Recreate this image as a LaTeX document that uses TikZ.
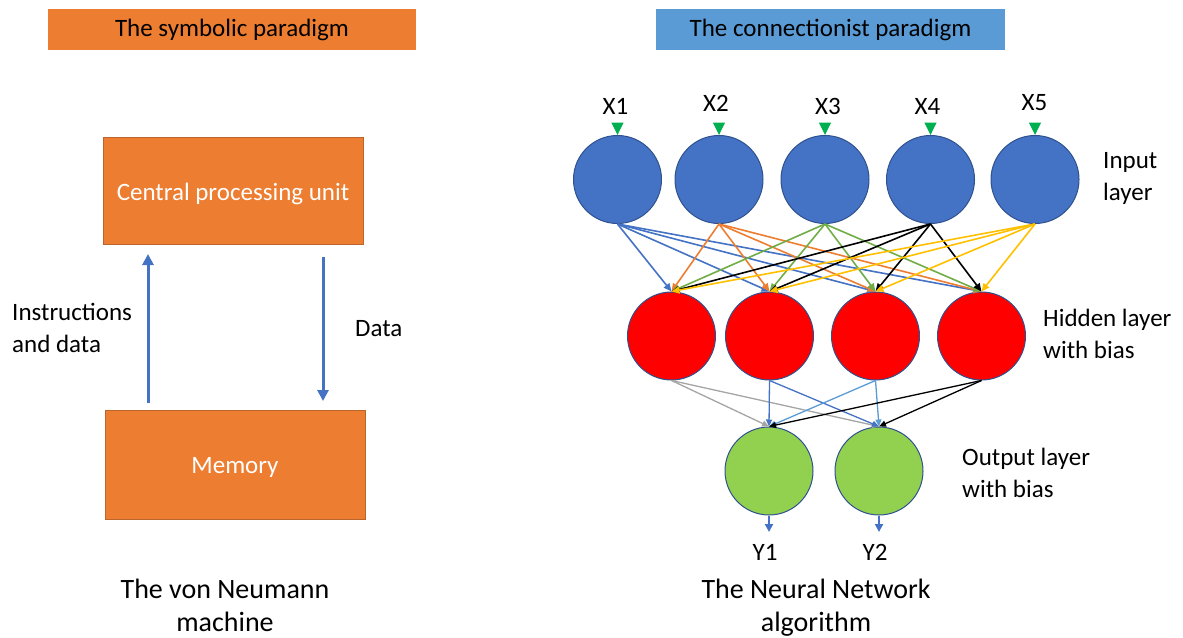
\documentclass[tikz,border=0pt]{standalone}
\usepackage{fontspec}
\setmainfont{Carlito}
\usetikzlibrary{arrows.meta,calc}

\definecolor{orangeA}{HTML}{ED7D31}
\definecolor{orangeD}{HTML}{B9652B}
\definecolor{skyA}{HTML}{5B9BD5}
\definecolor{blueA}{HTML}{4472C4}
\definecolor{rimblue}{HTML}{2F528F}
\definecolor{redA}{HTML}{FF0000}
\definecolor{limeA}{HTML}{92D050}
\definecolor{greenA}{HTML}{70AD47}
\definecolor{goldA}{HTML}{FFC000}
\definecolor{grayA}{HTML}{A5A5A5}
\definecolor{tipgreen}{HTML}{00B050}

\begin{document}
\begin{tikzpicture}[x=1pt,y=-1pt,
  txt/.style={font=\fontsize{25}{32}\selectfont, inner sep=0pt},
  bigtxt/.style={font=\fontsize{28}{34}\selectfont, inner sep=0pt, anchor=base},
  title/.style={txt, minimum width=368pt, minimum height=41pt},
  unitbox/.style={txt, fill=orangeA, draw=orangeD, line width=1pt,
    minimum width=260pt},
  unitlabel/.style={label={[txt, text=white, yshift=-3pt]center:#1}},
  neuron/.style={circle, minimum size=88pt, inner sep=0pt, draw=rimblue, line width=1pt},
  inp/.style={neuron, fill=blueA},
  hid/.style={neuron, fill=redA},
  outn/.style={neuron, fill=limeA},
  bus/.style={draw=blueA, line width=3pt, -{Triangle[length=11pt,width=11pt]}},
  ih/.style={line width=1.6pt, -{Triangle[length=8pt,width=7pt]}},
  ho/.style={line width=1.3pt, -{Triangle[length=7pt,width=6pt]}},
  yout/.style={draw=blueA, line width=2pt, -{Triangle[length=8pt,width=8pt]}}
]
\useasboundingbox (0,0) rectangle (1183,637);

% ---------- left: the von Neumann machine ----------
\node[title, fill=orangeA] (symtitle) at (232,29.5) {The symbolic paradigm};
\node[unitbox, minimum height=107pt, unitlabel={Central processing unit}] (cpu) at (233,190.5) {};
\node[unitbox, minimum height=109pt, unitlabel={Memory}] (mem) at (235,464.5) {};

\coordinate (upS) at (148,403);
\coordinate (upE) at (148,254);
\coordinate (dnS) at (323,257);
\coordinate (dnE) at (323,401);
\draw[bus] (upS) -- (upE);
\draw[bus] (dnS) -- (dnE);

\node[txt, anchor=west, align=left] (instr) at (12,328) {Instructions\\and data};
\node[txt, anchor=west] (datalbl) at (355,329) {Data};

\node[bigtxt] (vn1) at (225,598) {The von Neumann};
\node[bigtxt] (vn2) at (225,631) {machine};

% ---------- right: the neural network ----------
\node[title, fill=skyA, minimum width=349pt] (contitle) at (830.5,29.5) {The connectionist paradigm};

\node[inp] (i1) at (617.5,179.5) {};
\node[inp] (i2) at (719,179.5) {};
\node[inp] (i3) at (825,179.5) {};
\node[inp] (i4) at (930.5,179.5) {};
\node[inp] (i5) at (1035,179.5) {};

\node[hid] (h1) at (671.5,336) {};
\node[hid] (h2) at (769.5,336) {};
\node[hid] (h3) at (875.5,336) {};
\node[hid] (h4) at (981.5,336) {};

\node[outn] (o1) at (769,471) {};
\node[outn] (o2) at (879,471) {};

% input markers and labels
\foreach \n in {i1,i2,i3,i4,i5}
  \fill[tipgreen] ($(\n.north)+(-6.2,-12.5)$) -- ($(\n.north)+(6.2,-12.5)$) -- (\n.north) -- cycle;
\node[txt] (x1) at (615.5,106) {X1};
\node[txt] (x2) at (716,103) {X2};
\node[txt] (x3) at (828,106) {X3};
\node[txt] (x4) at (927.5,106) {X4};
\node[txt] (x5) at (1034.5,103) {X5};

% input -> hidden
\foreach \h in {h1,h2,h3,h4} \draw[ih, blueA] (i1.south) -- (\h.north);
\foreach \h in {h1,h2,h3,h4} \draw[ih, orangeA] (i2.south) -- (\h.north);
\foreach \h in {h1,h2,h3,h4} \draw[ih, greenA] (i3.south) -- (\h.north);
\foreach \h in {h1,h2,h3,h4} \draw[ih, black] (i4.south) -- (\h.north);
\foreach \h in {h1,h2,h3,h4} \draw[ih, goldA] (i5.south) -- (\h.north);

% hidden -> output
\foreach \o in {o1,o2} \draw[ho, grayA] (h1.south) -- (\o.north);
\foreach \o in {o1,o2} \draw[ho, blueA] (h2.south) -- (\o.north);
\foreach \o in {o1,o2} \draw[ho, skyA] (h3.south) -- (\o.north);
\foreach \o in {o1,o2} \draw[ho, black] (h4.south) -- (\o.north);

% outputs
\coordinate (y1e) at (769,532);
\coordinate (y2e) at (879,532);
\draw[yout] (o1.south) -- (y1e);
\draw[yout] (o2.south) -- (y2e);
\node[txt] (y1) at (765,552) {Y1};
\node[txt] (y2) at (875,552) {Y2};

% layer captions
\node[txt, anchor=west, align=left] (inlbl) at (1103,178) {Input\\layer};
\node[txt, anchor=west, align=left] (hidlbl) at (1043,334) {Hidden layer\\with bias};
\node[txt, anchor=west, align=left] (outlbl) at (962,473) {Output layer\\with bias};

\node[bigtxt] (nn1) at (816,598) {The Neural Network};
\node[bigtxt] (nn2) at (816,631) {algorithm};
\end{tikzpicture}
\end{document}
